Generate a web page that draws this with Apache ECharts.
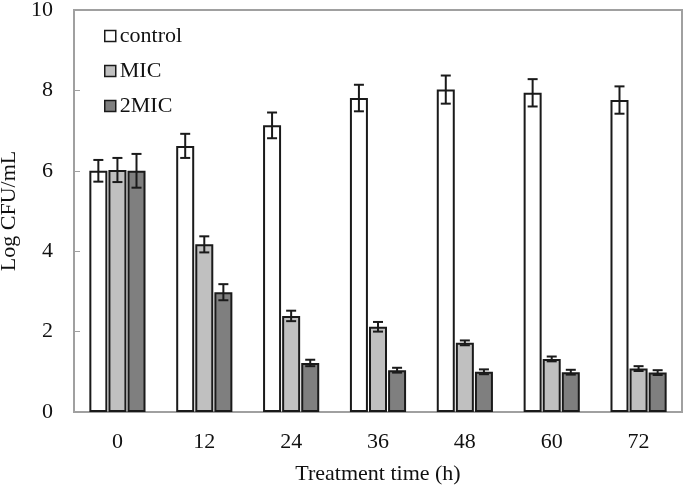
<!DOCTYPE html>
<html>
<head>
<meta charset="utf-8">
<script src="https://cdn.jsdelivr.net/npm/echarts@6/dist/echarts.min.js"></script>
<style>html,body{margin:0;padding:0;background:#fff}#c{width:685px;height:492px}</style>
</head>
<body>
<div id="c"></div>
<script>
var categories = ['0', '12', '24', '36', '48', '60', '72'];
var seriesNames = ['control', 'MIC', '2MIC'];
var controlValues = [6.0, 6.62, 7.13, 7.81, 8.02, 7.94, 7.76];
var micValues = [6.02, 4.17, 2.39, 2.12, 1.72, 1.32, 1.08];
var mic2Values = [6.0, 2.98, 1.22, 1.04, 1.0, 0.99, 0.98];
var controlErr = [0.27, 0.3, 0.32, 0.33, 0.35, 0.34, 0.34];
var micErr = [0.3, 0.2, 0.13, 0.12, 0.06, 0.06, 0.06];
var mic2Err = [0.42, 0.2, 0.08, 0.06, 0.06, 0.06, 0.06];
var yTicks = [0, 2, 4, 6, 8, 10];

var values = [controlValues, micValues, mic2Values];
var errs = [controlErr, micErr, mic2Err];
var colors = ['#ffffff', '#c0c0c0', '#7f7f7f'];
var FONT = 'Liberation Serif';
var BAR_W = 18;
var GAP = 0.06;
var step = BAR_W * (1 + GAP);

var series = [];
seriesNames.forEach(function (name, i) {
  series.push({
    name: name,
    type: 'bar',
    data: values[i],
    barWidth: BAR_W,
    barGap: (GAP * 100) + '%',
    itemStyle: { color: colors[i], borderColor: '#1a1a1a', borderWidth: 2 },
    emphasis: { disabled: true }
  });
});
seriesNames.forEach(function (name, i) {
  var data = values[i].map(function (v, k) { return [k, v - errs[i][k], v + errs[i][k]]; });
  series.push({
    type: 'custom',
    silent: true,
    z: 10,
    data: data,
    renderItem: function (params, api) {
      var k = api.value(0);
      var lo = api.coord([k, api.value(1)]);
      var hi = api.coord([k, api.value(2)]);
      var x = lo[0] + (i - 1) * step;
      var cap = 5;
      var st = { stroke: '#1a1a1a', lineWidth: 2 };
      return {
        type: 'group',
        children: [
          { type: 'line', shape: { x1: x, y1: lo[1], x2: x, y2: hi[1] }, style: st },
          { type: 'line', shape: { x1: x - cap, y1: lo[1], x2: x + cap, y2: lo[1] }, style: st },
          { type: 'line', shape: { x1: x - cap, y1: hi[1], x2: x + cap, y2: hi[1] }, style: st }
        ]
      };
    }
  });
});

var chart = echarts.init(document.getElementById('c'), null, { renderer: 'canvas' });
chart.setOption({
  animation: false,
  backgroundColor: '#ffffff',
  textStyle: { fontFamily: FONT },
  grid: { left: 74, right: 3, top: 10, bottom: 80, show: true, borderColor: '#a0a0a0', borderWidth: 2, outerBoundsMode: 'none', containLabel: false },
  legend: {
    data: seriesNames,
    orient: 'vertical',
    left: 99,
    top: 20,
    itemWidth: 11,
    itemHeight: 11,
    itemGap: 13,
    icon: 'rect',
    itemStyle: { borderWidth: 1.5, borderColor: '#1a1a1a' },
    textStyle: { fontFamily: FONT, fontSize: 22, color: '#111', padding: [0, 0, 0, -1] }
  },
  xAxis: {
    type: 'category',
    data: categories,
    name: 'Treatment time (h)',
    nameLocation: 'middle',
    nameGap: 51,
    nameTextStyle: { fontFamily: FONT, fontSize: 22, color: '#111' },
    axisLine: { lineStyle: { color: '#a0a0a0', width: 2 } },
    axisTick: { inside: true, length: 6, lineStyle: { color: '#a0a0a0' } },
    axisLabel: { fontFamily: FONT, fontSize: 22, color: '#111', margin: 19 }
  },
  yAxis: {
    type: 'value',
    min: yTicks[0],
    max: yTicks[yTicks.length - 1],
    interval: yTicks[1] - yTicks[0],
    name: 'Log CFU/mL',
    nameLocation: 'middle',
    nameGap: 42,
    nameTextStyle: { fontFamily: FONT, fontSize: 22, color: '#111' },
    splitLine: { show: false },
    axisLine: { show: true, lineStyle: { color: '#a0a0a0', width: 2 } },
    axisTick: { show: true, inside: true, length: 6, lineStyle: { color: '#a0a0a0' } },
    axisLabel: { fontFamily: FONT, fontSize: 22, color: '#111', margin: 21 }
  },
  series: series
});
</script>
</body>
</html>
